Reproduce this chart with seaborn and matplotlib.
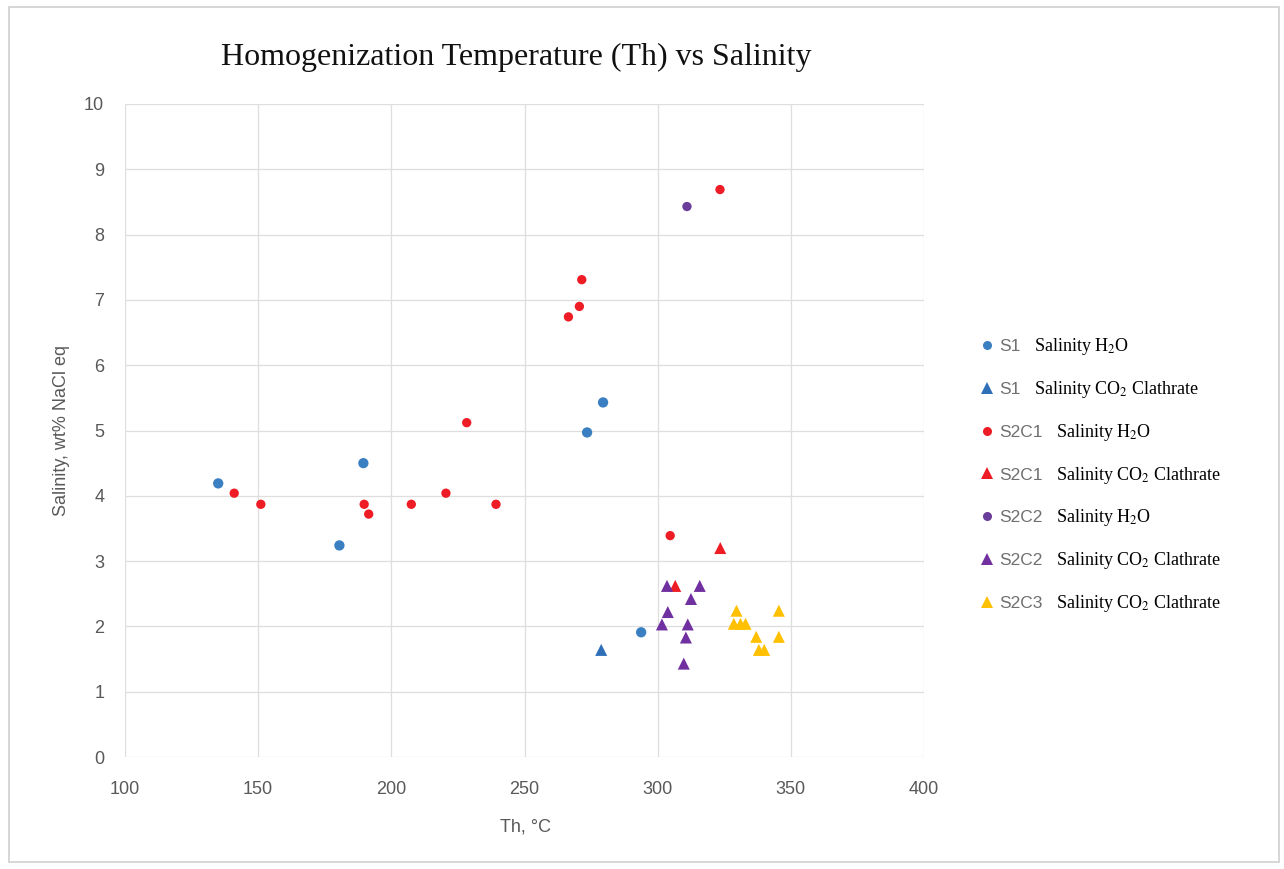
import matplotlib
matplotlib.use("Agg")
import matplotlib.pyplot as plt
import seaborn as sns
import pandas as pd
from matplotlib.patches import Rectangle

# ---- data ----
s1_h2o_th = [135, 180.5, 189.5, 273.5, 279.5, 293.8]
s1_h2o_sal = [4.19, 3.24, 4.50, 4.97, 5.43, 1.91]

s1_co2_th = [278.8]
s1_co2_sal = [1.64]

s2c1_h2o_th = [141, 151, 189.8, 191.5, 207.5, 220.5, 228.3, 239.3, 266.5, 270.6, 271.5, 304.7, 323.4]
s2c1_h2o_sal = [4.04, 3.87, 3.87, 3.72, 3.87, 4.04, 5.12, 3.87, 6.74, 6.90, 7.31, 3.39, 8.69]

s2c1_co2_th = [323.5, 306.6]
s2c1_co2_sal = [3.20, 2.62]

s2c2_h2o_th = [311]
s2c2_h2o_sal = [8.43]

s2c2_co2_th = [303.5, 315.8, 312.5, 303.8, 301.6, 311.3, 310.6, 309.8]
s2c2_co2_sal = [2.62, 2.62, 2.42, 2.22, 2.03, 2.03, 1.83, 1.43]

s2c3_co2_th = [329.6, 345.5, 328.6, 331.1, 333.0, 337.0, 345.5, 338.0, 340.0]
s2c3_co2_sal = [2.24, 2.24, 2.04, 2.04, 2.04, 1.84, 1.84, 1.64, 1.64]

series_ids = ["S1", "S1", "S2C1", "S2C1", "S2C2", "S2C2", "S2C3"]
series_desc = ["Salinity H$_2$O", "Salinity CO$_2$ Clathrate",
               "Salinity H$_2$O", "Salinity CO$_2$ Clathrate",
               "Salinity H$_2$O", "Salinity CO$_2$ Clathrate",
               "Salinity CO$_2$ Clathrate"]
x_ticks = [100, 150, 200, 250, 300, 350, 400]
y_ticks = list(range(0, 11))

series = [
    (s1_h2o_th, s1_h2o_sal, "#3a7fc1", "o", 55),
    (s1_co2_th, s1_co2_sal, "#2e6fb8", "^", 75),
    (s2c1_h2o_th, s2c1_h2o_sal, "#ee1c25", "o", 45),
    (s2c1_co2_th, s2c1_co2_sal, "#ee1c25", "^", 75),
    (s2c2_h2o_th, s2c2_h2o_sal, "#6a3d9a", "o", 45),
    (s2c2_co2_th, s2c2_co2_sal, "#7030a0", "^", 75),
    (s2c3_co2_th, s2c3_co2_sal, "#ffc000", "^", 75),
]

sns.set_style("white")
plt.rcParams["mathtext.fontset"] = "stix"

W, H = 1284, 869
fig = plt.figure(figsize=(W / 100, H / 100), dpi=100)
ax = fig.add_axes([125/W, 1-757/H, (924-125)/W, (757-104)/H])

handles = []
for (xs, ys, col, mk, sz), sid in zip(series, series_ids):
    df = pd.DataFrame({"Th": xs, "Sal": ys})
    sns.scatterplot(data=df, x="Th", y="Sal", ax=ax, color=col, marker=mk,
                    s=sz, edgecolor="none", linewidth=0, zorder=3)
    h = plt.Line2D([], [], linestyle="none", marker=mk, color=col,
                   markersize=6.5 if mk == "o" else 8, markeredgewidth=0)
    handles.append(h)

ax.set_xlim(100, 400)
ax.set_ylim(0, 10)
ax.set_xticks(x_ticks)
ax.set_yticks(y_ticks)
ax.grid(True, color="#dedede", linewidth=0.9)
ax.set_axisbelow(True)
for sp in ax.spines.values():
    sp.set_visible(False)
ax.tick_params(axis="x", length=0, labelsize=13, labelcolor="#595959", pad=17)
ax.tick_params(axis="y", length=0, labelsize=13, labelcolor="#595959", pad=15)
for lbl in ax.get_xticklabels() + ax.get_yticklabels():
    lbl.set_fontfamily("Liberation Sans")
ax.set_xlabel("")
ax.set_ylabel("")
fig.text(526/W, 1-827/H, "Th, °C", ha="center", va="center", fontsize=13,
         color="#595959", family="Liberation Sans")
fig.text(62/W, 1-431/H, "Salinity, wt% NaCl eq", ha="center", va="center",
         rotation=90, fontsize=13, color="#595959", family="Liberation Sans")

fig.text(516/W, 1-57/H, "Homogenization Temperature (Th) vs Salinity",
         ha="center", va="center", fontsize=23, family="Liberation Serif", color="#111111")

leg = fig.legend(handles, series_ids, loc="upper left",
                 bbox_to_anchor=(966/W, 1-323/H), frameon=False,
                 handlelength=0.6, handletextpad=0.4, labelspacing=1.6,
                 prop={"family": "Liberation Sans", "size": 12.5})
for t in leg.get_texts():
    t.set_color("#6f6f6f")

fig.canvas.draw()
inv = fig.transFigure.inverted()
for t, desc in zip(leg.get_texts(), series_desc):
    bb = t.get_window_extent()
    x0, y0 = inv.transform((bb.x1 + 14, (bb.y0 + bb.y1) / 2))
    fig.text(x0, y0, desc, va="center", ha="left", fontsize=13,
             family="Liberation Serif", color="black")

fig.add_artist(Rectangle((9/W, 7/H), 1270/W, 855/H,
                         transform=fig.transFigure, fill=False,
                         edgecolor="#d0d0d0", linewidth=1.2))

fig.savefig("out.png", dpi=100, facecolor="white")
